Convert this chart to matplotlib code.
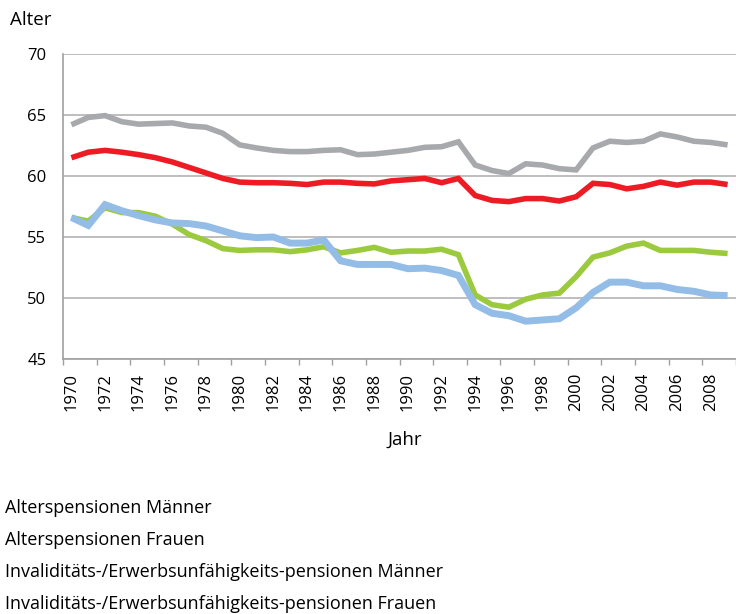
import matplotlib.pyplot as plt
import numpy as np

plt.rcParams['font.family'] = ['Open Sans', 'DejaVu Sans']

years = list(range(1970, 2010))

# Alterspensionen Männer
alt_m = [64.2, 64.8, 64.95, 64.45, 64.25, 64.3, 64.35, 64.1, 64.0, 63.5,
         62.55, 62.3, 62.1, 62.0, 62.0, 62.1, 62.15, 61.75, 61.8, 61.95,
         62.1, 62.35, 62.4, 62.8, 60.9, 60.45, 60.2, 61.0, 60.9, 60.6,
         60.5, 62.3, 62.85, 62.75, 62.85, 63.45, 63.2, 62.85, 62.75, 62.55]
# Alterspensionen Frauen
alt_f = [61.5, 61.95, 62.1, 61.95, 61.75, 61.5, 61.15, 60.7, 60.25, 59.8,
         59.5, 59.45, 59.45, 59.4, 59.3, 59.5, 59.5, 59.4, 59.35, 59.6,
         59.7, 59.8, 59.45, 59.8, 58.4, 58.0, 57.9, 58.15, 58.15, 57.95,
         58.3, 59.4, 59.3, 58.95, 59.15, 59.5, 59.25, 59.5, 59.5, 59.3]
# Invaliditäts-/Erwerbsunfähigkeitspensionen Männer
inv_m = [56.6, 56.3, 57.4, 57.0, 57.0, 56.7, 56.05, 55.2, 54.7, 54.05,
         53.9, 53.95, 53.95, 53.8, 53.95, 54.2, 53.7, 53.9, 54.15, 53.75,
         53.85, 53.85, 54.0, 53.55, 50.25, 49.45, 49.25, 49.9, 50.25, 50.4,
         51.75, 53.35, 53.7, 54.25, 54.5, 53.9, 53.9, 53.9, 53.75, 53.65]
# Invaliditäts-/Erwerbsunfähigkeitspensionen Frauen
inv_f = [56.6, 55.95, 57.65, 57.15, 56.75, 56.4, 56.15, 56.1, 55.9, 55.5,
         55.1, 54.95, 55.0, 54.5, 54.5, 54.75, 53.05, 52.75, 52.75, 52.75,
         52.4, 52.45, 52.25, 51.85, 49.45, 48.75, 48.55, 48.1, 48.2, 48.3,
         49.2, 50.45, 51.3, 51.3, 51.0, 51.0, 50.7, 50.55, 50.25, 50.2]

labels = ['Alterspensionen Männer',
          'Alterspensionen Frauen',
          'Invaliditäts-/Erwerbsunfähigkeits-pensionen Männer',
          'Invaliditäts-/Erwerbsunfähigkeits-pensionen Frauen']
colors = ['#a7a9ac', '#ed1c24', '#9bca3e', '#93bde6']
widths = [4.0, 4.0, 4.0, 5.0]

fig = plt.figure(figsize=(7.36, 6.14), dpi=100)
ax = fig.add_axes([63 / 736, 1 - 359 / 614, 673 / 736, 305 / 614])

for series, c, lw in zip([alt_m, alt_f, inv_m, inv_f], colors, widths):
    ax.plot(years, series, color=c, lw=lw, solid_joinstyle='miter', solid_capstyle='butt')

ax.set_ylim(45, 70)
ax.set_yticks([45, 50, 55, 60, 65, 70])
ax.set_xlim(1969.5, 2009.1)
ax.set_xticks(years[::2])
ax.set_xticklabels([str(y) for y in years[::2]], rotation=90, fontsize=12)
ax.set_xticks(np.arange(1969.5, 2010, 2), minor=True)
ax.tick_params(axis='x', which='major', length=0, pad=10)
ax.tick_params(axis='x', which='minor', length=4, color='#a0a0a0', width=1)
ax.tick_params(axis='y', length=0, labelsize=12, pad=12)

ax.grid(axis='y', color='#b3b3b3', lw=1.2)
ax.set_axisbelow(True)
for s in ['top', 'right']:
    ax.spines[s].set_visible(False)
ax.spines['left'].set_color('#a0a0a0')
ax.spines['bottom'].set_color('#a0a0a0')
ax.spines['left'].set_linewidth(1.2)
ax.spines['bottom'].set_linewidth(1.2)

fig.text(10 / 736, 1 - 20 / 614, 'Alter', fontsize=13.5, va='center', ha='left')
fig.text(405 / 736, 1 - 440 / 614, 'Jahr', fontsize=13.5, va='center', ha='center')

for i, lab in enumerate(labels):
    fig.text(5 / 736, 1 - (508 + 32 * i) / 614, lab, fontsize=13, va='center', ha='left')

fig.savefig('out.png', dpi=100)
